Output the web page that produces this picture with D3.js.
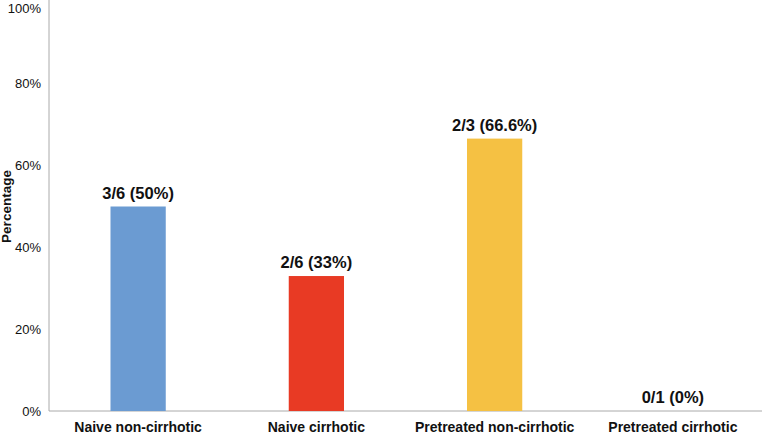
<!DOCTYPE html>
<html>
<head>
<meta charset="utf-8">
<script src="https://cdn.jsdelivr.net/npm/d3@7"></script>
<style>
  body { margin: 0; background: #fff; }
  svg { display: block; font-family: "Liberation Sans", Arial, Helvetica, sans-serif; }
  .axis path { stroke: #aaa; }
  .axis line { display: none; }
</style>
</head>
<body>
<svg width="762" height="435"></svg>
<script>
const categories = ["Naive non-cirrhotic", "Naive cirrhotic", "Pretreated non-cirrhotic", "Pretreated cirrhotic"];
const values = [50, 33, 66.6, 0];
const valueLabels = ["3/6 (50%)", "2/6 (33%)", "2/3 (66.6%)", "0/1 (0%)"];
const colors = ["#6b9bd2", "#e83a24", "#f5c143", "#f5c143"];
const yTicks = [0, 20, 40, 60, 80, 100];

const margin = { left: 49, right: 0, top: 2, bottom: 24 };
const chartSize = { width: 762, height: 435 };
const width = chartSize.width - margin.left - margin.right;
const height = chartSize.height - margin.top - margin.bottom;

const svg = d3.select("svg");
const g = svg.append("g").attr("transform", `translate(${margin.left},${margin.top})`);

const x = d3.scaleBand()
  .domain(categories)
  .range([0, width])
  .paddingInner(0.69)
  .paddingOuter(0.345);

const y = d3.scaleLinear().domain([0, 100]).range([height, 0]);

// y axis: only the line and labels
const yAxis = g.append("g").attr("class", "axis")
  .call(d3.axisLeft(y).tickValues(yTicks).tickFormat(d => `${d}%`).tickSize(0).tickPadding(8));
yAxis.select(".domain").attr("d", `M0,${-margin.top}V${height}`);
yAxis.selectAll("text")
  .attr("font-size", 13)
  .attr("fill", "#111")
  .style("font-family", "inherit")
  .attr("dy", d => (d === 100 ? "0.95em" : "0.32em"))
  .attr("y", d => (d === 100 ? -margin.top : 0));

const xAxis = g.append("g").attr("class", "axis")
  .attr("transform", `translate(0,${height})`)
  .call(d3.axisBottom(x).tickSize(0).tickPadding(11));
xAxis.select(".domain").attr("d", `M0,0H${width}`);
xAxis.selectAll("text").attr("font-size", 14).attr("font-weight", "bold").attr("fill", "#111").style("font-family", "inherit");

g.selectAll("rect.bar")
  .data(categories)
  .join("rect")
  .attr("class", "bar")
  .attr("x", d => x(d))
  .attr("width", x.bandwidth())
  .attr("y", (d, i) => y(values[i]))
  .attr("height", (d, i) => y(0) - y(values[i]))
  .attr("fill", (d, i) => colors[i]);

g.selectAll("text.val")
  .data(categories)
  .join("text")
  .attr("class", "val")
  .attr("x", d => x(d) + x.bandwidth() / 2)
  .attr("y", (d, i) => y(values[i]) - 8)
  .attr("text-anchor", "middle")
  .attr("font-size", 16.5)
  .attr("font-weight", "bold")
  .attr("fill", "#111")
  .text((d, i) => valueLabels[i]);

svg.append("text")
  .attr("transform", `translate(11,${margin.top + y(50)}) rotate(-90)`)
  .attr("text-anchor", "middle")
  .attr("font-size", 13.5)
  .attr("font-weight", "bold")
  .attr("fill", "#111")
  .text("Percentage");
</script>
</body>
</html>
